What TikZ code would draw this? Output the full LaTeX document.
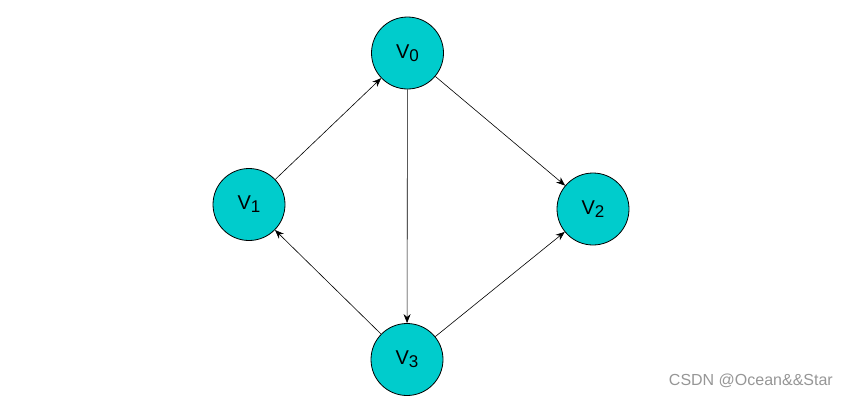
\documentclass[tikz,border=0pt]{standalone}
\usepackage{fontspec}
\setmainfont{Liberation Sans}
\usetikzlibrary{arrows.meta}
\definecolor{vfill}{RGB}{0,204,204}
\definecolor{wm}{RGB}{150,150,150}
\begin{document}
\begin{tikzpicture}[x=1pt,y=-1pt,
  vert/.style={circle,draw=black,line width=0.8pt,fill=vfill,minimum size=72pt,inner sep=0pt,font=\fontsize{20}{20}\selectfont},
  edge/.style={line width=0.6pt,-{Stealth[length=9pt,width=7pt]}},
  sub/.style={}]
\useasboundingbox (0,0) rectangle (841,405);
\node[vert] (v0) at (407.5,53) {V\raisebox{-3pt}{\fontsize{17}{17}\selectfont 0}};
\node[vert] (v1) at (249,204.5) {V\raisebox{-3pt}{\fontsize{17}{17}\selectfont 1}};
\node[vert] (v2) at (593,209) {V\raisebox{-3pt}{\fontsize{17}{17}\selectfont 2}};
\node[vert] (v3) at (407,359.5) {V\raisebox{-3pt}{\fontsize{17}{17}\selectfont 3}};
\draw[edge] (v1) -- (v0);
\draw[edge] (v0) -- (v2);
\draw[edge] (v0) -- (v3);
\draw[edge] (v3) -- (v1);
\draw[edge] (v3) -- (v2);
\node[anchor=east,text=wm,font=\fontsize{16}{16}\selectfont,inner sep=0pt] (wmk) at (833,381) {CSDN @Ocean\&\&Star};
\end{tikzpicture}
\end{document}
